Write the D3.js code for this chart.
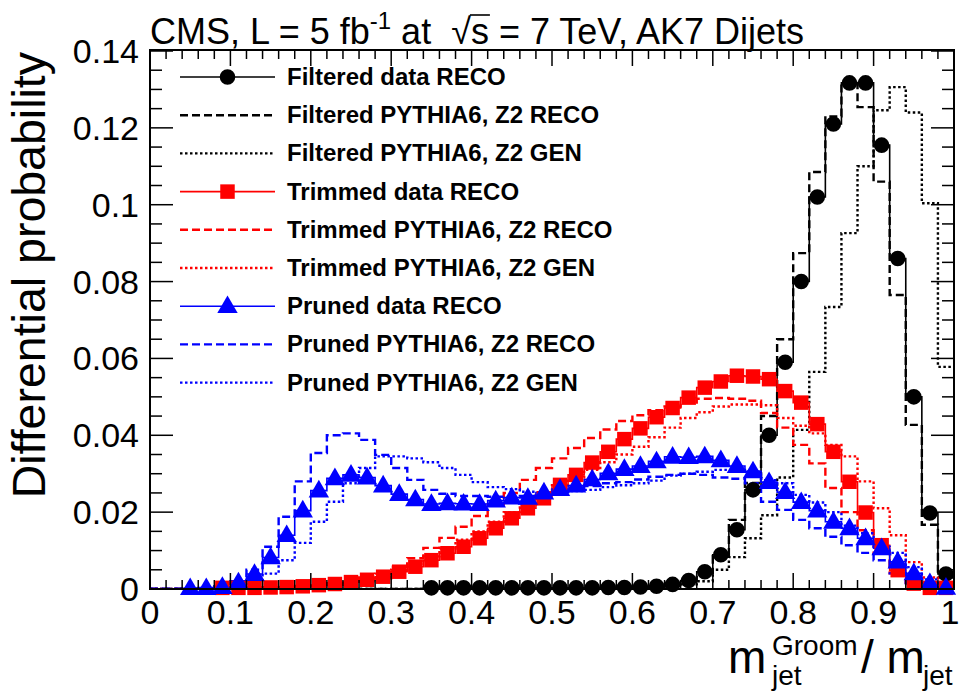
<!DOCTYPE html>
<html><head><meta charset="utf-8">
<script src="https://cdn.jsdelivr.net/npm/d3@7/dist/d3.min.js"></script>
<style>
body{margin:0;background:#fff}
svg{font-family:"Liberation Sans",Arial,Helvetica,sans-serif}
text{white-space:pre}
</style>
</head><body>
<svg id="chart" width="960" height="691"></svg>
<script>
// ---------------- DATA ----------------
const binCenters = [0.01,0.03,0.05,0.07,0.09,0.11,0.13,0.15,0.17,0.19,0.21,0.23,0.25,0.27,0.29,0.31,0.33,0.35,0.37,0.39,
  0.41,0.43,0.45,0.47,0.49,0.51,0.53,0.55,0.57,0.59,0.61,0.63,0.65,0.67,0.69,0.71,0.73,0.75,0.77,0.79,
  0.81,0.83,0.85,0.87,0.89,0.91,0.93,0.95,0.97,0.99];
const binWidth = 0.02;

const filteredData = [0,0,0,0,0,0,0,0,0,0,0,0,0,0,0,0,0,0.0003,0.0003,0.0003,
  0.0003,0.0003,0.0003,0.0003,0.0003,0.0003,0.0003,0.0003,0.0004,0.0004,0.0005,0.0007,0.0012,0.0022,0.0045,0.0089,0.0154,0.0258,0.040,0.059,
  0.080,0.102,0.121,0.1317,0.1317,0.1155,0.086,0.050,0.0198,0.0039];
const filteredReco = [0,0,0,0,0,0,0,0,0,0,0,0,0,0,0,0,0,0,0,0,
  0,0,0,0,0,0,0,0.0002,0.0003,0.0004,0.0005,0.0008,0.0013,0.0022,0.0042,0.0086,0.018,0.0276,0.045,0.065,
  0.0874,0.1085,0.123,0.1317,0.1254,0.106,0.0765,0.0427,0.0167,0.003];
const filteredGen = [0,0,0,0,0,0,0,0,0,0,0,0,0,0,0,0,0,0,0,0,
  0,0,0,0,0,0,0,0,0.0001,0.0002,0.0003,0.0005,0.0008,0.0012,0.002,0.005,0.0083,0.0132,0.0192,0.029,
  0.0414,0.0565,0.0734,0.0926,0.110,0.1246,0.1306,0.124,0.1004,0.0578];

const trimmedData = [0,0,0,0,0.0003,0.0003,0.0003,0.0004,0.0005,0.0007,0.001,0.0013,0.0018,0.0024,0.0032,0.0045,0.0058,0.0075,0.0093,0.011,
  0.0132,0.0158,0.0184,0.021,0.0236,0.0271,0.0297,0.0329,0.0357,0.039,0.0418,0.0447,0.0471,0.0498,0.0524,0.054,0.0555,0.0553,0.0546,0.0515,
  0.0485,0.0429,0.0357,0.0279,0.0199,0.0114,0.0049,0.0014,0.0003,0.0003];
const trimmedReco = [0,0,0,0,0.0002,0.0003,0.0004,0.0005,0.0006,0.0008,0.001,0.0015,0.002,0.003,0.004,0.0058,0.008,0.0107,0.0133,0.0162,
  0.019,0.022,0.025,0.0284,0.0315,0.034,0.0367,0.0393,0.0415,0.0437,0.0452,0.0465,0.0475,0.0485,0.0495,0.0497,0.0495,0.049,0.0458,0.042,
  0.0375,0.0327,0.0263,0.020,0.0153,0.0093,0.0041,0.0016,0.0005,0.0003];
const trimmedGen = [0,0,0,0,0.0001,0.0002,0.0003,0.0004,0.0005,0.0006,0.0008,0.001,0.0014,0.002,0.0028,0.005,0.0065,0.0085,0.0105,0.0128,
  0.015,0.0175,0.020,0.022,0.0245,0.027,0.029,0.031,0.033,0.035,0.037,0.0395,0.042,0.0445,0.046,0.0475,0.048,0.048,0.0478,0.0445,
  0.0425,0.0405,0.0375,0.0345,0.028,0.021,0.014,0.007,0.003,0.001];

const prunedData = [0,0,0.0002,0.0002,0.0005,0.0017,0.0039,0.0082,0.014,0.0204,0.0256,0.0288,0.0297,0.029,0.0269,0.0247,0.0233,0.0221,0.0223,0.0222,
  0.0221,0.023,0.0238,0.0237,0.0251,0.026,0.0269,0.0285,0.0301,0.0312,0.032,0.0332,0.0344,0.0343,0.0345,0.0335,0.032,0.0306,0.0278,0.0252,
  0.0226,0.0204,0.0175,0.0158,0.0132,0.0106,0.0071,0.0041,0.0015,0.0003];
const prunedReco = [0.0001,0.0001,0.0002,0.0003,0.0007,0.002,0.005,0.011,0.0188,0.028,0.0354,0.040,0.0405,0.0388,0.0349,0.0315,0.0284,0.0258,0.0248,0.0242,
  0.0242,0.024,0.024,0.0242,0.0245,0.0252,0.026,0.0268,0.0275,0.0278,0.0285,0.0292,0.0297,0.030,0.0297,0.029,0.0287,0.0275,0.0227,0.0206,
  0.018,0.0158,0.0136,0.0114,0.0094,0.0075,0.0041,0.0015,0.0005,0.0002];
const prunedGen = [0,0,0.0001,0.0002,0.0004,0.0008,0.0018,0.004,0.0075,0.012,0.0175,0.0227,0.0275,0.0315,0.0345,0.0345,0.034,0.033,0.0315,0.0297,
  0.0278,0.0265,0.026,0.0253,0.0252,0.0252,0.0255,0.0258,0.0265,0.027,0.0275,0.0282,0.0295,0.030,0.0305,0.031,0.031,0.0305,0.0283,0.0275,
  0.0245,0.0225,0.020,0.0165,0.0145,0.011,0.0094,0.0057,0.0025,0.001];

const xTickLabels = ["0","0.1","0.2","0.3","0.4","0.5","0.6","0.7","0.8","0.9","1"];
const yTickLabels = ["0","0.02","0.04","0.06","0.08","0.1","0.12","0.14"];
const legendLabels = ["Filtered data RECO","Filtered PYTHIA6, Z2 RECO","Filtered PYTHIA6, Z2 GEN",
  "Trimmed data RECO","Trimmed PYTHIA6, Z2 RECO","Trimmed PYTHIA6, Z2 GEN",
  "Pruned data RECO","Pruned PYTHIA6, Z2 RECO","Pruned PYTHIA6, Z2 GEN"];

// ---------------- LAYOUT ----------------
const svg = d3.select("#chart");
const L = 150, R = 954, T = 51, B = 589;
const x = d3.scaleLinear().domain([0,1]).range([L,R]);
const y = d3.scaleLinear().domain([0,0.14]).range([B,T]);

const DASH = "8,4", DOT = "2.5,2.5";
const series = {
  fD: {vals: filteredData, color:"#000", dash:null, w:1.6, marker:"circle"},
  fR: {vals: filteredReco, color:"#000", dash:DASH, w:2.4},
  fG: {vals: filteredGen,  color:"#000", dash:DOT,  w:2.4},
  tD: {vals: trimmedData, color:"#ff0000", dash:null, w:1.6, marker:"square"},
  tR: {vals: trimmedReco, color:"#ff0000", dash:DASH, w:2.4},
  tG: {vals: trimmedGen,  color:"#ff0000", dash:DOT,  w:2.4},
  pD: {vals: prunedData, color:"#0000ff", dash:null, w:1.6, marker:"triangle"},
  pR: {vals: prunedReco, color:"#0000ff", dash:DASH, w:2.4},
  pG: {vals: prunedGen,  color:"#0000ff", dash:DOT,  w:2.4}
};
const drawOrder = ["fR","fG","fD","tR","tG","tD","pR","pG","pD"];
const legendOrder = ["fD","fR","fG","tD","tR","tG","pD","pR","pG"];

svg.append("defs").append("clipPath").attr("id","clip")
  .append("rect").attr("x",L).attr("y",T-10).attr("width",R-L).attr("height",B-T+10);

const plot = svg.append("g").attr("clip-path","url(#clip)");
const line = d3.line().x(d=>d[0]).y(d=>d[1]);
const symSize = {circle: 190, square: 210, triangle: 180};
const symType = {circle: d3.symbolCircle, square: d3.symbolSquare, triangle: d3.symbolTriangle};

function drawMarker(g, type, cx, cy, color){
  g.append("path").attr("d", d3.symbol().type(symType[type]).size(symSize[type])())
   .attr("transform", `translate(${cx},${cy + (type==="triangle"?1:0)})`).attr("fill", color);
}

drawOrder.forEach(k=>{
  const s = series[k];
  const pts = [];
  s.vals.forEach((v,i)=>{
    const c = binCenters[i];
    pts.push([x(c-binWidth/2), y(v)]);
    pts.push([x(c+binWidth/2), y(v)]);
  });
  plot.append("path").attr("d", line(pts)).attr("fill","none")
    .attr("stroke", s.color).attr("stroke-width", s.w)
    .attr("stroke-dasharray", s.dash);
  if (s.marker){
    s.vals.forEach((v,i)=>{ if (v>0) drawMarker(svg, s.marker, x(binCenters[i]), y(v), s.color); });
  }
});

// ---------------- FRAME & AXES ----------------
const ax = svg.append("g").attr("stroke","#000").attr("stroke-width",1.5);
ax.append("rect").attr("x",L).attr("y",T-1).attr("width",R-L).attr("height",B-T+1).attr("fill","none").attr("stroke-width",2);

const xMinor = d3.range(0, 51).map(i=>i/50);
xMinor.forEach((v,i)=>{
  const len = (i%5===0)?16:9;
  ax.append("line").attr("x1",x(v)).attr("x2",x(v)).attr("y1",B).attr("y2",B-len);
  ax.append("line").attr("x1",x(v)).attr("x2",x(v)).attr("y1",T-1).attr("y2",T-1+len);
});
const yMinor = d3.range(0, 29).map(i=>i*0.005);
yMinor.forEach((v,i)=>{
  const len = (i%4===0)?23:12;
  ax.append("line").attr("x1",L).attr("x2",L+len).attr("y1",y(v)).attr("y2",y(v));
  ax.append("line").attr("x1",R).attr("x2",R-len).attr("y1",y(v)).attr("y2",y(v));
});

const xt = svg.append("g").attr("font-size",34).attr("text-anchor","middle");
xTickLabels.forEach((t,i)=>{
  xt.append("text").attr("x", Math.min(x(i/10), 950)).attr("y", 624).text(t);
});
const yt = svg.append("g").attr("font-size",34).attr("text-anchor","end");
yTickLabels.forEach((t,i)=>{
  yt.append("text").attr("x", 139).attr("y", y(i*0.02)+12).text(t);
});

// axis titles
svg.append("text").attr("transform","translate(45,52) rotate(-90)")
  .attr("text-anchor","end").attr("font-size",46.5).text("Differential probability");

const xtg = svg.append("g");
xtg.append("text").attr("x",728).attr("y",673).attr("font-size",46).text("m");
xtg.append("text").attr("x",772).attr("y",655).attr("font-size",28).text("Groom");
xtg.append("text").attr("x",772).attr("y",685).attr("font-size",28).text("jet");
xtg.append("text").attr("x",861).attr("y",673).attr("font-size",46).text("/ m");
xtg.append("text").attr("x",923).attr("y",685).attr("font-size",28).text("jet");

// header
const head = svg.append("text").attr("x",150).attr("y",44).attr("font-size",36);
head.append("tspan").text("CMS, L = 5 fb");
head.append("tspan").attr("font-size",24).attr("dy",-15).text("-1");
head.append("tspan").attr("dy",15).text(" at  ");
head.append("tspan").text("\u221A");
head.append("tspan").text("s");
head.append("tspan").text(" = 7 TeV, AK7 Dijets");
(function(){
  const node = head.node();
  const full = node.textContent;
  const idx = full.indexOf("\u221A");
  const x1 = node.getEndPositionOfChar(idx).x - 1;
  const x2 = node.getEndPositionOfChar(idx+1).x + 1;
  svg.append("line").attr("x1",x1).attr("x2",x2).attr("y1",44-29).attr("y2",44-29)
    .attr("stroke","#000").attr("stroke-width",1.6);
})();

// legend
const leg = svg.append("g");
const legY0 = 77, legDy = 38.2;
legendLabels.forEach((lab,i)=>{
  const s = series[legendOrder[i]];
  const yy = legY0 + i*legDy;
  leg.append("line").attr("x1",180).attr("x2",275).attr("y1",yy).attr("y2",yy)
    .attr("stroke", s.color).attr("stroke-width", s.w).attr("stroke-dasharray", s.dash);
  if (s.marker) drawMarker(leg, s.marker, 227.5, yy, s.color);
  leg.append("text").attr("x",287).attr("y",yy+8).attr("font-size",24).attr("font-weight","bold").text(lab);
});
</script>
</body></html>
